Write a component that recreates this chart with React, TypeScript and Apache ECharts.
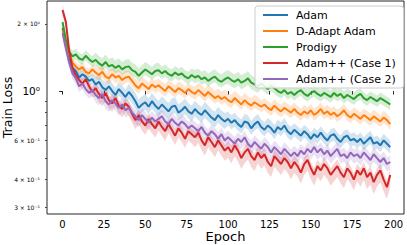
import { useEffect, useRef } from "react";
import * as echarts from "echarts";

const SERIES_NAMES = ["Adam", "D-Adapt Adam", "Prodigy", "Adam++ (Case 1)", "Adam++ (Case 2)"];
const COLORS = ["#1f77b4", "#ff7f0e", "#2ca02c", "#d62728", "#9467bd"];

// mean train loss, one value every 2 epochs (0, 2, ..., 198)
const ADAM = [
  1.92, 1.62, 1.40, 1.27, 1.23, 1.15, 1.19, 1.16, 1.11, 1.13,
  1.07, 1.10, 1.04, 1.01, 1.05, 1.00, 0.96, 1.02, 0.98, 0.94,
  0.99, 0.95, 0.90, 0.84, 0.87, 0.89, 0.85, 0.90, 0.86, 0.83,
  0.87, 0.84, 0.81, 0.85, 0.86, 0.80, 0.82, 0.85, 0.81, 0.79,
  0.83, 0.80, 0.78, 0.82, 0.79, 0.76, 0.74, 0.78, 0.75, 0.73,
  0.75, 0.72, 0.74, 0.71, 0.69, 0.73, 0.72, 0.68, 0.71, 0.73,
  0.69, 0.67, 0.70, 0.68, 0.65, 0.69, 0.67, 0.70, 0.66, 0.64,
  0.67, 0.65, 0.63, 0.66, 0.64, 0.61, 0.64, 0.62, 0.65, 0.62,
  0.60, 0.63, 0.64, 0.61, 0.59, 0.62, 0.63, 0.60, 0.61, 0.59,
  0.61, 0.58, 0.60, 0.62, 0.58, 0.59, 0.57, 0.60, 0.58, 0.56,
];
const DADAPT = [
  1.88, 1.62, 1.45, 1.34, 1.29, 1.25, 1.28, 1.22, 1.20, 1.25,
  1.21, 1.18, 1.22, 1.16, 1.14, 1.19, 1.15, 1.17, 1.12, 1.15,
  1.16, 1.11, 1.06, 1.03, 1.08, 1.05, 1.02, 1.07, 1.04, 1.06,
  1.03, 1.00, 1.05, 1.02, 0.99, 1.03, 1.01, 0.98, 1.02, 0.99,
  0.97, 1.01, 0.98, 0.95, 0.99, 0.96, 0.93, 0.95, 0.92, 0.94,
  0.91, 0.89, 0.93, 0.90, 0.87, 0.91, 0.88, 0.86, 0.89, 0.87,
  0.85, 0.87, 0.84, 0.82, 0.86, 0.83, 0.81, 0.84, 0.82, 0.80,
  0.83, 0.80, 0.78, 0.81, 0.79, 0.82, 0.78, 0.80, 0.83, 0.79,
  0.81, 0.78, 0.80, 0.77, 0.79, 0.82, 0.78, 0.76, 0.79, 0.77,
  0.75, 0.78, 0.76, 0.74, 0.77, 0.75, 0.73, 0.76, 0.74, 0.71,
];
const PRODIGY = [
  2.04, 1.70, 1.50, 1.43, 1.46, 1.40, 1.38, 1.44, 1.39, 1.35,
  1.38, 1.33, 1.30, 1.35, 1.29, 1.31, 1.27, 1.30, 1.25, 1.28,
  1.29, 1.24, 1.22, 1.17, 1.21, 1.25, 1.22, 1.19, 1.23, 1.24,
  1.20, 1.23, 1.19, 1.17, 1.21, 1.18, 1.20, 1.16, 1.14, 1.18,
  1.15, 1.17, 1.13, 1.15, 1.11, 1.14, 1.16, 1.12, 1.10, 1.13,
  1.15, 1.12, 1.10, 1.13, 1.09, 1.11, 1.14, 1.09, 1.07, 1.05,
  1.08, 1.05, 1.02, 1.06, 1.03, 1.00, 0.98, 1.01, 0.97, 0.99,
  0.96, 0.99, 1.01, 0.97, 0.95, 0.98, 1.00, 0.97, 0.95, 0.98,
  0.96, 0.94, 0.98, 0.95, 0.97, 0.93, 0.96, 0.94, 0.92, 0.95,
  0.97, 0.93, 0.91, 0.94, 0.92, 0.90, 0.93, 0.91, 0.89, 0.87,
];
const CASE1 = [
  2.31, 2.04, 1.52, 1.26, 1.18, 1.12, 1.08, 1.13, 1.05, 0.99,
  1.03, 0.97, 0.93, 0.98, 0.91, 0.88, 0.93, 0.86, 0.83, 0.88,
  0.85, 0.79, 0.74, 0.78, 0.73, 0.70, 0.75, 0.71, 0.68, 0.73,
  0.69, 0.66, 0.71, 0.67, 0.63, 0.68, 0.65, 0.61, 0.66, 0.64,
  0.62, 0.65, 0.60, 0.57, 0.62, 0.59, 0.56, 0.60, 0.57, 0.54,
  0.56, 0.53, 0.57, 0.54, 0.50, 0.53, 0.55, 0.51, 0.49, 0.53,
  0.50, 0.52, 0.48, 0.46, 0.51, 0.49, 0.47, 0.50, 0.48, 0.45,
  0.48, 0.46, 0.43, 0.47, 0.49, 0.45, 0.42, 0.46, 0.44, 0.47,
  0.45, 0.42, 0.44, 0.46, 0.43, 0.41, 0.45, 0.43, 0.40, 0.44,
  0.42, 0.45, 0.41, 0.43, 0.39, 0.42, 0.44, 0.40, 0.37, 0.42,
];
const CASE2 = [
  1.82, 1.55, 1.34, 1.20, 1.14, 1.05, 1.08, 1.02, 0.98, 1.01,
  0.96, 0.93, 0.97, 0.90, 0.87, 0.91, 0.88, 0.84, 0.87, 0.82,
  0.84, 0.80, 0.77, 0.74, 0.78, 0.75, 0.72, 0.76, 0.73, 0.75,
  0.77, 0.73, 0.71, 0.75, 0.72, 0.70, 0.73, 0.71, 0.68, 0.70,
  0.68, 0.66, 0.69, 0.65, 0.63, 0.66, 0.64, 0.61, 0.64, 0.60,
  0.62, 0.60, 0.58, 0.61, 0.59, 0.62, 0.58, 0.56, 0.59, 0.57,
  0.55, 0.58, 0.56, 0.53, 0.56, 0.54, 0.52, 0.55, 0.53, 0.51,
  0.53, 0.51, 0.54, 0.52, 0.55, 0.53, 0.56, 0.53, 0.55, 0.52,
  0.54, 0.51, 0.53, 0.55, 0.51, 0.52, 0.50, 0.53, 0.51, 0.52,
  0.50, 0.53, 0.51, 0.49, 0.52, 0.50, 0.48, 0.50, 0.47, 0.48,
];

// relative width of the shaded band (above / below the mean), one value per 20 epochs
const ADAM_UP = [0.06, 0.08, 0.09, 0.09, 0.09, 0.08, 0.08, 0.07, 0.07, 0.07];
const ADAM_DN = [0.06, 0.07, 0.08, 0.08, 0.08, 0.07, 0.07, 0.07, 0.07, 0.07];
const DADAPT_UP = [0.05, 0.07, 0.07, 0.07, 0.08, 0.08, 0.07, 0.07, 0.07, 0.07];
const DADAPT_DN = [0.05, 0.06, 0.06, 0.06, 0.06, 0.06, 0.06, 0.06, 0.06, 0.06];
const PRODIGY_UP = [0.06, 0.08, 0.08, 0.07, 0.08, 0.08, 0.07, 0.07, 0.07, 0.06];
const PRODIGY_DN = [0.05, 0.06, 0.06, 0.06, 0.06, 0.07, 0.06, 0.06, 0.06, 0.06];
const CASE1_UP = [0.05, 0.06, 0.06, 0.06, 0.06, 0.07, 0.07, 0.07, 0.07, 0.07];
const CASE1_DN = [0.06, 0.09, 0.10, 0.10, 0.11, 0.12, 0.12, 0.12, 0.12, 0.13];
const CASE2_UP = [0.05, 0.07, 0.07, 0.07, 0.07, 0.07, 0.07, 0.07, 0.07, 0.07];
const CASE2_DN = [0.06, 0.08, 0.08, 0.08, 0.08, 0.08, 0.08, 0.08, 0.08, 0.08];

const EPOCH_STEP = 2;
const BAND_BLOCK = 20;

const X_TICKS = [0, 25, 50, 75, 100, 125, 150, 175, 200];
const Y_MAJOR_TICKS = [1];
const Y_MINOR_TICKS = [0.3, 0.4, 0.5, 0.6, 0.7, 0.8, 0.9, 2];
const Y_MINOR_LABELS = [0.3, 0.4, 0.6, 2];

const X_MIN = -9.4;
const X_MAX = 206.3;
const Y_MIN = 0.2803;
const Y_MAX = 2.537;

const METHODS = [
  { mean: ADAM, up: ADAM_UP, dn: ADAM_DN },
  { mean: DADAPT, up: DADAPT_UP, dn: DADAPT_DN },
  { mean: PRODIGY, up: PRODIGY_UP, dn: PRODIGY_DN },
  { mean: CASE1, up: CASE1_UP, dn: CASE1_DN },
  { mean: CASE2, up: CASE2_UP, dn: CASE2_DN },
];

const SUP: Record<string, string> = { "0": "⁰", "1": "¹", "2": "²", "-": "⁻" };
const sup = (n: number) => String(n).split("").map((c) => SUP[c] ?? c).join("");

function logLabel(v: number): string {
  const x = Math.pow(10, v);
  const exp = Math.floor(Math.log10(x) + 1e-9);
  const m = Math.round(x / Math.pow(10, exp));
  if (m === 1) return "10" + sup(exp);
  return m + " × 10" + sup(exp);
}

function hexToRgba(hex: string, a: number) {
  const n = parseInt(hex.slice(1), 16);
  return `rgba(${(n >> 16) & 255},${(n >> 8) & 255},${n & 255},${a})`;
}

const FONT = "DejaVu Sans";

export default function App() {
  const ref = useRef<HTMLDivElement>(null);
  useEffect(() => {
    if (!ref.current) return;
    const chart = echarts.init(ref.current, null, { renderer: "svg" });
    const series: any[] = [];
    METHODS.forEach((m, k) => {
      const color = COLORS[k];
      series.push({
        type: "line",
        name: SERIES_NAMES[k],
        data: m.mean.map((v, i) => [i * EPOCH_STEP, Math.log10(v)]),
        symbol: "none",
        showSymbol: false,
        lineStyle: { color, width: 2 },
        itemStyle: { color },
        z: 2,
      });
      series.push({
        type: "custom",
        name: SERIES_NAMES[k] + " band",
        data: [[0, 0]],
        silent: true,
        clip: true,
        z: 2,
        renderItem: (_params: any, api: any) => {
          const upper = m.mean.map((v, i) => {
            const e = i * EPOCH_STEP;
            const s = m.up[Math.min(m.up.length - 1, Math.floor(e / BAND_BLOCK))];
            return api.coord([e, Math.log10(v * (1 + s))]);
          });
          const lower = m.mean.map((v, i) => {
            const e = i * EPOCH_STEP;
            const s = m.dn[Math.min(m.dn.length - 1, Math.floor(e / BAND_BLOCK))];
            return api.coord([e, Math.log10(v / (1 + s))]);
          });
          return {
            type: "polygon",
            shape: { points: upper.concat(lower.reverse()) },
            style: { fill: hexToRgba(color, 0.2), stroke: "none" },
          };
        },
      });
    });

    const yMin = Math.log10(Y_MIN);
    const yMax = Math.log10(Y_MAX);

    chart.setOption({
      animation: false,
      grid: {
        left: 47,
        right: 3,
        top: 1,
        bottom: 31,
        show: true,
        borderColor: "#262626",
        borderWidth: 1,
        containLabel: false,
        outerBoundsMode: "none",
      },
      legend: {
        data: SERIES_NAMES.map((n) => ({ name: n, icon: "rect" })),
        orient: "vertical",
        left: 255,
        top: 6,
        padding: [2.5, 8, 2.5, 8],
        itemWidth: 25,
        itemHeight: 2,
        itemGap: 3,
        backgroundColor: "rgba(255,255,255,0.85)",
        borderColor: "#cccccc",
        borderWidth: 1,
        borderRadius: 3,
        textStyle: {
          fontFamily: FONT,
          fontSize: 11,
          lineHeight: 13,
          color: "#000",
          padding: [0, 0, 0, 3],
        },
      },
      xAxis: {
        type: "value",
        min: X_MIN,
        max: X_MAX,
        name: "Epoch",
        nameLocation: "middle",
        nameMoveOverlap: false,
        nameGap: 15.5,
        nameTextStyle: { fontFamily: FONT, fontSize: 13, color: "#000" },
        axisLine: { show: false },
        splitLine: { show: false },
        axisTick: {
          show: true,
          length: 3.5,
          customValues: X_TICKS,
          lineStyle: { color: "#262626", width: 1 },
        },
        axisLabel: {
          customValues: X_TICKS,
          margin: 5,
          fontFamily: FONT,
          fontSize: 10,
          color: "#000",
        },
      },
      yAxis: [
        {
          type: "value",
          position: "left",
          min: yMin,
          max: yMax,
          name: "Train Loss",
          nameLocation: "middle",
          nameMoveOverlap: false,
          nameGap: 33,
          nameTextStyle: { fontFamily: FONT, fontSize: 12.5, color: "#000" },
          axisLine: { show: false },
          splitLine: { show: false },
          axisTick: {
            show: true,
            length: 3.5,
            customValues: Y_MAJOR_TICKS.map((v) => Math.log10(v)),
            lineStyle: { color: "#262626", width: 1 },
          },
          axisLabel: {
            customValues: Y_MAJOR_TICKS.map((v) => Math.log10(v)),
            formatter: (v: number) => logLabel(v),
            margin: 7,
            fontFamily: FONT,
            fontSize: 10.5,
            color: "#000",
          },
        },
        {
          type: "value",
          position: "left",
          offset: 0,
          min: yMin,
          max: yMax,
          axisLine: { show: false },
          splitLine: { show: false },
          axisTick: {
            show: true,
            length: 2,
            customValues: Y_MINOR_TICKS.map((v) => Math.log10(v)),
            lineStyle: { color: "#262626", width: 0.8 },
          },
          axisLabel: {
            customValues: Y_MINOR_LABELS.map((v) => Math.log10(v)),
            formatter: (v: number) => logLabel(v),
            margin: 7,
            fontFamily: FONT,
            fontSize: 6,
            color: "#000",
          },
        },
      ],
      series,
    });
    return () => chart.dispose();
  }, []);
  return (
    <div
      ref={ref}
      style={{ position: "fixed", left: 0, top: 0, width: 407, height: 245, background: "#fff" }}
    />
  );
}
